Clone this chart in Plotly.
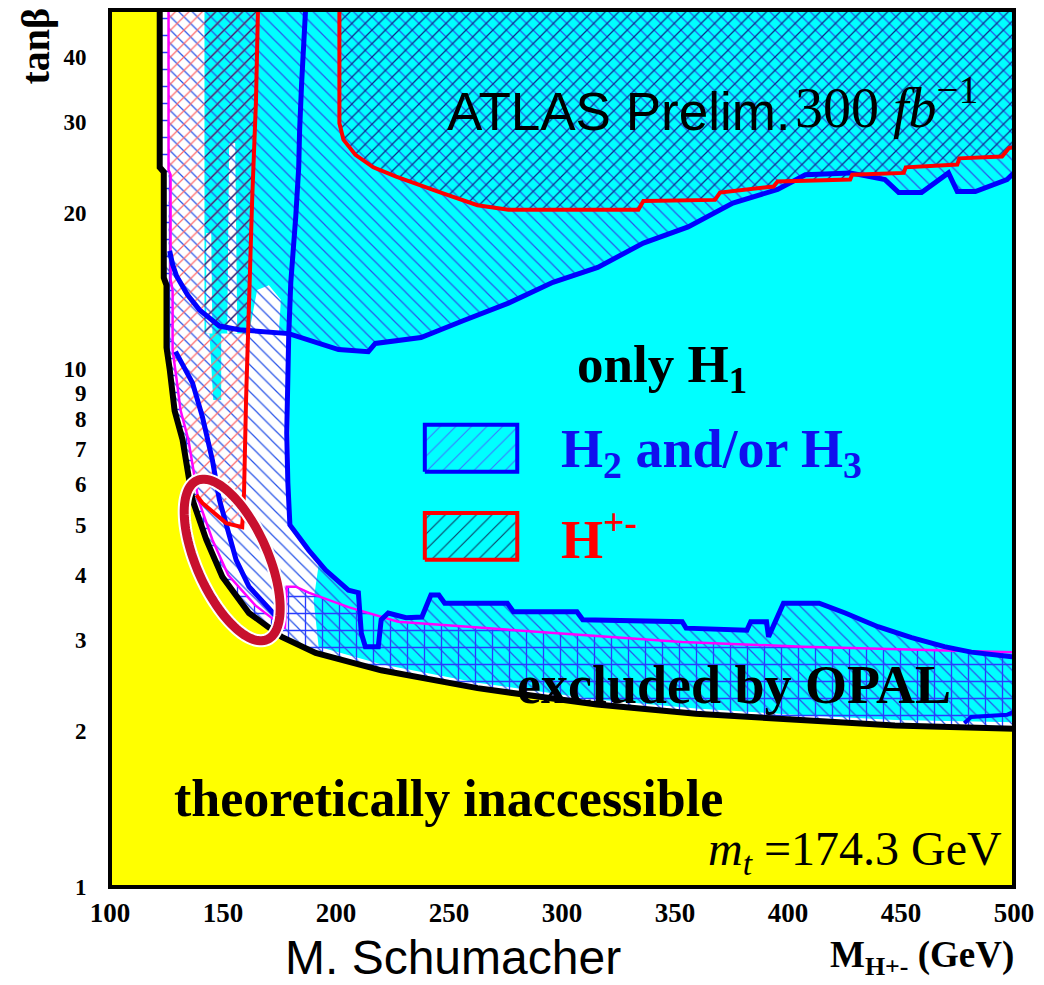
import numpy as np
import plotly.graph_objects as go

# ---------------- data (M_H+- in GeV, tan beta) ----------------
# theoretical limit (black curve)
theory_m = [122.0, 122.0, 123.8, 123.8, 125.0, 125.0, 126.4, 128.6, 132.1, 136.5, 142.6, 149.7,
            161.5, 176.0, 191.0, 220.0, 262.6, 315.4, 359.3, 403.3, 447.3, 500.0]
theory_tb = [50, 24.5, 24.0, 15.0, 14.5, 11.0, 10.0, 8.3, 7.3, 5.59, 4.68, 3.97,
             3.38, 3.04, 2.83, 2.62, 2.42, 2.25, 2.16, 2.10, 2.05, 2.02]

# OPAL exclusion boundary (magenta)
opal_m = [125.9, 125.9, 126.8, 126.8, 127.7, 127.7, 129.5, 131.2, 134.7, 139.1, 145.3, 152.3,
          164.2, 177.4, 178.2, 182.2, 187.9, 205.5, 227.5, 281.1, 353.2, 406.8, 460.9, 500.0]
opal_tb = [50, 24.2, 23.7, 14.9, 14.2, 10.9, 9.52, 8.33, 7.29, 5.59, 4.68, 4.00,
           3.50, 3.16, 3.80, 3.80, 3.70, 3.47, 3.25, 3.13, 2.97, 2.91, 2.87, 2.84]

# H2/H3 discovery contours (blue)
h23_upper_m = [126.4, 127.7, 129.5, 134.3, 139.6, 148.4, 157.1, 179.1, 201.1, 214.3, 217.4, 237.6,
               256.5, 276.3, 296.0, 315.8, 336.0, 355.8, 375.6, 395.4, 407.7, 427.5, 442.9, 449.0,
               459.1, 471.0, 474.9, 482.9, 496.9, 500.0]
h23_upper_tb = [16.9, 15.9, 15.1, 13.9, 13.0, 12.1, 11.9, 11.7, 10.9, 10.8, 11.2, 11.5,
                12.4, 13.4, 14.7, 15.7, 17.5, 18.8, 20.9, 22.2, 23.7, 23.9, 23.2, 21.9,
                21.9, 23.9, 22.0, 22.0, 23.2, 23.9]
h23_lower_m = [186.6, 185.7, 184.8, 183.9, 183.5, 182.2, 180.0, 179.1, 178.7, 178.2, 178.7, 179.6,
               187.9, 195.4, 205.5, 209.9, 211.2, 213.0, 218.7, 220.0, 223.1, 231.0, 238.0, 242.0,
               245.5, 248.1, 275.8, 278.5, 306.6, 309.2, 353.2, 354.9, 381.8, 383.5, 390.5, 391.4,
               398.0, 413.8, 425.3, 439.8, 454.7, 469.2, 481.1, 491.2, 500.0]
h23_lower_tb = [50, 39.5, 35.7, 28.9, 24.5, 19.7, 14.7, 11.7, 9.40, 7.52, 6.03, 5.00,
                4.47, 4.09, 3.74, 3.70, 3.09, 2.91, 2.91, 3.28, 3.38, 3.31, 3.32, 3.66,
                3.66, 3.53, 3.53, 3.40, 3.40, 3.28, 3.25, 3.16, 3.13, 3.25, 3.25, 3.04,
                3.53, 3.53, 3.38, 3.18, 3.03, 2.91, 2.84, 2.81, 2.78]
h23_left_m = [129.0, 131.6, 136.5, 140.9, 145.3, 148.4, 152.7, 155.8, 161.5, 171.6, 173.8]
h23_left_tb = [10.8, 10.3, 9.40, 8.08, 6.67, 5.59, 4.82, 4.28, 3.80, 3.42, 3.32]
h23_corner_m = [478.0, 481.1, 496.9, 500.0]
h23_corner_tb = [2.07, 2.13, 2.15, 2.18]

# H+- discovery contours (red)
hpm_right_m = [201.5, 201.5, 203.3, 208.6, 216.5, 226.6, 246.4, 262.6, 276.3, 333.8, 336.0, 367.7,
               369.9, 393.6, 395.4, 427.5, 428.4, 451.2, 452.1, 474.9, 475.8, 494.7, 497.8, 500.0]
hpm_right_tb = [50, 29.8, 27.7, 25.9, 24.5, 23.5, 21.9, 20.7, 20.3, 20.3, 21.1, 21.2,
                21.9, 22.5, 23.0, 23.2, 23.7, 23.9, 24.5, 24.8, 25.5, 25.7, 26.7, 26.8]
hpm_left_m = [165.5, 164.6, 162.9, 161.5, 160.2, 159.3, 158.5, 151.4, 140.9, 138.2]
hpm_left_tb = [50, 33.0, 21.2, 13.6, 8.71, 5.76, 4.95, 5.04, 5.51, 5.71]

# discovery-region fill (cyan) outline
cyan_m = [141.8, 500, 500, 447.3, 403.3, 359.3, 315.4, 262.6, 220.0, 192.3, 190.1, 192.3, 187.9,
          179.6, 179.1, 174.7, 175.6, 170.3, 165.1, 161.5, 149.2, 149.2, 145.7, 144.0, 141.8]
cyan_tb = [50, 50, 2.08, 2.10, 2.15, 2.21, 2.30, 2.48, 2.69, 2.91, 3.58, 4.18, 4.47,
           5.00, 11.7, 11.7, 13.6, 14.5, 14.2, 11.7, 11.7, 8.71, 8.71, 11.7, 11.7]
gap1_m = [152.7, 155.4, 156.3, 151.9]
gap1_tb = [27.3, 27.3, 11.7, 11.7]
gap2_m = [142.6, 144.8, 145.3, 142.6]
gap2_tb = [18.3, 18.3, 11.7, 11.7]
strip_m = [141.8, 165.5, 164.6, 162.9, 161.5, 161.0, 141.8]
strip_tb = [50, 50, 33.0, 21.2, 13.6, 11.7, 11.7]

x_ticks = [100, 150, 200, 250, 300, 350, 400, 450, 500]
y_ticks = [1, 2, 3, 4, 5, 6, 7, 8, 9, 10, 20, 30, 40]
y_ticktext = [str(v) for v in y_ticks]

# legend keys (drawn in axis units)
LEG_X = [239.3, 280.2]
LEG_H23_Y = [6.33, 7.80]
LEG_HPM_Y = [4.28, 5.27]

TB_MAX = 49.3

CYAN = "#00ffff"
YELLOW = "#ffff00"
BLUE = "#0000ff"
RED = "#ff0000"
MAGENTA = "#ff00ff"
SERIF = "Liberation Serif"
SANS = "Liberation Sans"

fig = go.Figure()


def area(xs, ys, color):
    fig.add_trace(go.Scatter(x=xs, y=ys, mode="none", fill="toself", fillcolor=color,
                             hoverinfo="skip", showlegend=False))


def hatch(xs, ys, shape, color, size=9.5, sol=0.13):
    fig.add_trace(go.Scatter(x=xs, y=ys, mode="none", fill="toself",
                             fillcolor="rgba(0,0,0,0)",
                             fillpattern=dict(shape=shape, size=size, solidity=sol,
                                              fgcolor=color, bgcolor="rgba(0,0,0,0)",
                                              fillmode="replace"),
                             hoverinfo="skip", showlegend=False))


def line(xs, ys, color, width):
    fig.add_trace(go.Scatter(x=xs, y=ys, mode="lines", line=dict(color=color, width=width),
                             hoverinfo="skip", showlegend=False))


# theoretically inaccessible
area(theory_m + [500, 100, 100], theory_tb + [0.95, 0.95, 50], YELLOW)
# cyan discovery area
area(cyan_m, cyan_tb, CYAN)
area(gap1_m, gap1_tb, "white")
area(gap2_m, gap2_tb, "white")

# H2/H3 hatch (\)
up_x = [125.9, 500] + h23_upper_m[::-1] + [125.9]
up_y = [50, 50] + h23_upper_tb[::-1] + [16.9]
hatch(up_x, up_y, "\\", "#2a55e8")
k = h23_upper_m.index(179.1)
j = h23_lower_m.index(179.1)
th_low = [(m, t) for m, t in zip(theory_m, theory_tb) if t <= 15.0]
lo_x = h23_upper_m[:k] + h23_lower_m[j:] + [m for m, t in th_low[::-1]] + [124.5]
lo_y = h23_upper_tb[:k] + h23_lower_tb[j:] + [t for m, t in th_low[::-1]] + [16.9]
hatch(lo_x, lo_y, "\\", "#2a55e8")

# H+- hatch (/)
hatch(hpm_right_m + [500, 201.5], hpm_right_tb + [50, 50], "/", "#0b2a85")
mag_left = [(m, t) for m, t in zip(opal_m[:12], opal_tb[:12]) if t > 5.71]
hl_x = hpm_left_m + [m for m, t in mag_left[::-1]]
hl_y = hpm_left_tb + [t for m, t in mag_left[::-1]]
hatch(hl_x, hl_y, "/", "#ff6a6a")
hatch(strip_m, strip_tb, "/", "#0b2a85")

# OPAL excluded grid (+)
hatch(opal_m + theory_m[::-1], opal_tb + theory_tb[::-1], "+", "#2a3cff", size=17, sol=0.15)

# contour lines
line(opal_m, opal_tb, MAGENTA, 2.5)
line(h23_upper_m, h23_upper_tb, BLUE, 5)
line(h23_lower_m, h23_lower_tb, BLUE, 5)
line(h23_left_m, h23_left_tb, BLUE, 5)
line(h23_corner_m, h23_corner_tb, BLUE, 4)
line(hpm_right_m, hpm_right_tb, RED, 4)
line(hpm_left_m, hpm_left_tb, RED, 4)
line(theory_m, theory_tb, "black", 6)

# legend keys
for ys, edge, hc in [(LEG_H23_Y, BLUE, "#3a78ff"), (LEG_HPM_Y, RED, "#0b3a60")]:
    bx = [LEG_X[0], LEG_X[1], LEG_X[1], LEG_X[0], LEG_X[0]]
    by = [ys[0], ys[0], ys[1], ys[1], ys[0]]
    fig.add_trace(go.Scatter(x=bx, y=by, mode="lines", fill="toself", fillcolor=CYAN,
                             fillpattern=dict(shape="/", size=11, solidity=0.1, fgcolor=hc,
                                              bgcolor=CYAN, fillmode="replace"),
                             line=dict(color=edge, width=4), hoverinfo="skip", showlegend=False))

# ---------------- annotations ----------------
def px2paper(px, py):
    return (px - 110) / 910.0, (887 - py) / 877.0


ann = []


def text(s, px, py, size, family=SERIF, color="black", xanchor="left", yanchor="middle", angle=0):
    xp, yp = px2paper(px, py)
    ann.append(dict(text=s, x=xp, y=yp, xref="paper", yref="paper", showarrow=False,
                    xanchor=xanchor, yanchor=yanchor, textangle=angle,
                    font=dict(family=family, size=size, color=color)))


text("<b>only H<sub>1</sub></b>", 578, 368, 53)
text("<b>H<sub>2</sub> and/or H<sub>3</sub></b>", 562, 452, 54, color="#1010ee")
text("<b>H<sup>+-</sup></b>", 562, 535, 54, color=RED)
text("<b>excluded by OPAL</b>", 738, 685, 54, xanchor="center")
text("<b>theoretically inaccessible</b>", 172, 798, 52)
text("<i>m</i><sub><i>t</i></sub> =174.3 GeV", 1010, 852, 48, xanchor="right")
text("ATLAS Prelim.", 798, 112, 53, family=SANS, xanchor="right")
text("300 <i>fb</i><sup>\u22121</sup>", 798, 104, 56, xanchor="left")
text("<b>tan\u03b2</b>", 34, 46, 40, angle=-90, xanchor="center")
text("<b>M<sub>H+-</sub> (GeV)</b>", 1022, 958, 37, xanchor="right")
text("M. Schumacher", 455, 957, 48, family=SANS, xanchor="center")

# red highlight ellipse (paper coordinates)
E_CX, E_CY = 233, 560
E_A, E_B, E_TILT = 87, 36, np.radians(24)
t = np.linspace(0, 2 * np.pi, 121)
dx = E_A * np.cos(t) * np.sin(E_TILT) + E_B * np.sin(t) * np.cos(E_TILT)
dy = E_A * np.cos(t) * np.cos(E_TILT) - E_B * np.sin(t) * np.sin(E_TILT)
ex, ey = px2paper(E_CX + dx, E_CY + dy)
path = "M " + " L ".join(f"{a:.5f},{b:.5f}" for a, b in zip(ex, ey)) + " Z"

shapes = [
    dict(type="path", path=path, xref="paper", yref="paper", line=dict(color="white", width=13)),
    dict(type="path", path=path, xref="paper", yref="paper", line=dict(color="#c8102e", width=9)),
    dict(type="rect", x0=0, x1=1, y0=0, y1=1, xref="paper", yref="paper",
         line=dict(color="black", width=4)),
]

fig.update_layout(
    width=1044, height=985,
    margin=dict(l=110, r=24, t=10, b=98),
    paper_bgcolor="white", plot_bgcolor="white",
    annotations=ann, shapes=shapes,
    xaxis=dict(range=[100, 500], tickvals=x_ticks, ticktext=[str(v) for v in x_ticks],
               showgrid=False, zeroline=False, showline=False,
               ticks="outside", ticklen=2, tickcolor="rgba(0,0,0,0)",
               tickfont=dict(family=SERIF, size=27, color="black", weight="bold")),
    yaxis=dict(type="log", range=[0, np.log10(TB_MAX)], tickvals=y_ticks, ticktext=y_ticktext,
               showgrid=False, zeroline=False, showline=False,
               ticks="outside", ticklen=18, tickcolor="rgba(0,0,0,0)",
               tickfont=dict(family=SERIF, size=23, color="black", weight="bold")),
)

fig.write_html("out.html")
